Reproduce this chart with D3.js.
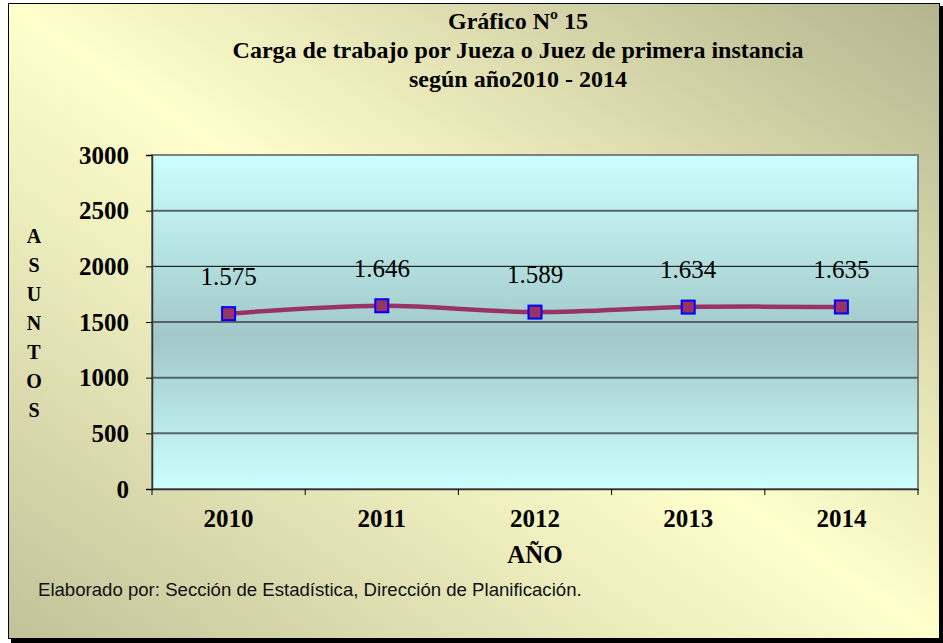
<!DOCTYPE html>
<html>
<head>
<meta charset="utf-8">
<script src="https://cdn.jsdelivr.net/npm/d3@7"></script>
<style>
body { margin: 0; background: #fff; }
svg { display: block; }
</style>
</head>
<body>
<svg id="chart" width="943" height="643"></svg>
<script>
// data
const years = ["2010", "2011", "2012", "2013", "2014"];
const asuntos = [1575, 1646, 1589, 1634, 1635];
const yTicks = [0, 500, 1000, 1500, 2000, 2500, 3000];
const titleLines = ["Gráfico Nº 15", "Carga de trabajo por Jueza o Juez de primera instancia", "según año2010 - 2014"];
const yLabel = "ASUNTOS";
const xLabel = "AÑO";
const footer = "Elaborado por: Sección de Estadística, Dirección de Planificación.";

const svg = d3.select("#chart");
const plot = {left: 152, right: 918, top: 155, bottom: 489};
const serif = "Liberation Serif, Times New Roman, serif";

const locale = d3.formatLocale({decimal: ",", thousands: ".", grouping: [3], currency: ["", ""]});
const fmt = locale.format(",d");

let defs = svg.append("defs");

let bg = defs.append("linearGradient")
.attr("id", "bgGrad")
.attr("x1", 0).attr("y1", 1)
.attr("x2", 1).attr("y2", 0);
bg.append("stop").attr("offset", 0).attr("stop-color", "#c2c29a");
bg.append("stop").attr("offset", 0.5).attr("stop-color", "#ffffcc");
bg.append("stop").attr("offset", 1).attr("stop-color", "#b4b48e");

let pg = defs.append("linearGradient")
.attr("id", "plotGrad")
.attr("x1", 0).attr("y1", 0)
.attr("x2", 0).attr("y2", 1);
pg.append("stop").attr("offset", 0).attr("stop-color", "#ccffff");
pg.append("stop").attr("offset", 0.55).attr("stop-color", "#a2c8c8");
pg.append("stop").attr("offset", 1).attr("stop-color", "#ccffff");

// shadow + frame
svg.append("rect")
.attr("x", 11).attr("y", 6)
.attr("width", 932).attr("height", 637)
.attr("fill", "#000");

svg.append("rect")
.attr("x", 8.5).attr("y", 3.5)
.attr("width", 931).attr("height", 635)
.attr("fill", "url(#bgGrad)")
.attr("stroke", "#000")
.attr("stroke-width", 1);

// scales
let x = d3.scaleBand()
.domain(years)
.range([plot.left, plot.right]);

let y = d3.scaleLinear()
.domain([0, 3000])
.range([plot.bottom, plot.top]);

// plot area
svg.append("rect")
.attr("x", plot.left).attr("y", plot.top)
.attr("width", plot.right - plot.left)
.attr("height", plot.bottom - plot.top)
.attr("fill", "url(#plotGrad)")
.attr("stroke", "#808080")
.attr("stroke-width", 2);

svg.append("g")
.selectAll("line")
.data(yTicks.filter(d => d > 0 && d < 3000))
.join("line")
.attr("x1", plot.left).attr("x2", plot.right)
.attr("y1", d => y(d)).attr("y2", d => y(d))
.attr("stroke", d => d == 2000 ? "#000" : "#5a6464")
.attr("stroke-width", d => d == 2000 ? 1 : 2);

// axes
let yAxis = svg.append("g")
.attr("transform", `translate(${plot.left},0)`)
.call(d3.axisLeft(y).tickValues(yTicks).tickSize(6).tickPadding(17).tickFormat(d3.format("d")));

let xAxis = svg.append("g")
.attr("transform", `translate(0,${plot.bottom})`)
.call(d3.axisBottom(x).tickSize(0).tickPadding(20));

xAxis.selectAll(".tick")
.append("line")
.attr("class", "edge")
.attr("x1", -x.bandwidth() / 2).attr("x2", -x.bandwidth() / 2)
.attr("y1", 0).attr("y2", 6)
.attr("stroke", "#000");

xAxis.append("line")
.attr("x1", plot.right).attr("x2", plot.right)
.attr("y1", 0).attr("y2", 6)
.attr("stroke", "#000");

[yAxis, xAxis].forEach(g => {
	g.select(".domain").attr("stroke", "#333").attr("stroke-width", 1.5);
	g.selectAll(".tick line").attr("stroke", "#000");
	g.selectAll("text")
	.attr("font-family", serif)
	.attr("font-weight", "bold")
	.attr("font-size", 25)
	.attr("fill", "#000");
});

// line
let line = d3.line()
.x((d, i) => x(years[i]) + x.bandwidth() / 2)
.y(d => y(d))
.curve(d3.curveCatmullRom.alpha(0.5));

svg.append("path")
.datum(asuntos)
.attr("d", line)
.attr("fill", "none")
.attr("stroke", "#993366")
.attr("stroke-width", 4.5);

svg.append("g")
.selectAll("rect")
.data(asuntos)
.join("rect")
.attr("x", (d, i) => x(years[i]) + x.bandwidth() / 2 - 6.5)
.attr("y", d => y(d) - 6.5)
.attr("width", 13).attr("height", 13)
.attr("fill", "#993366")
.attr("stroke", "#0000ff")
.attr("stroke-width", 2);

svg.append("g")
.selectAll("text")
.data(asuntos)
.join("text")
.attr("x", (d, i) => x(years[i]) + x.bandwidth() / 2)
.attr("y", d => y(d) - 29)
.attr("text-anchor", "middle")
.attr("font-family", serif)
.attr("font-size", 25)
.attr("fill", "#000")
.text(d => fmt(d));

// titles
svg.append("g")
.selectAll("text")
.data(titleLines)
.join("text")
.attr("x", 518)
.attr("y", (d, i) => 29 + i * 29)
.attr("text-anchor", "middle")
.attr("font-family", serif)
.attr("font-weight", "bold")
.attr("font-size", 24)
.text(d => d);

svg.append("g")
.selectAll("text")
.data(yLabel.split(""))
.join("text")
.attr("x", 34)
.attr("y", (d, i) => 243 + i * 29)
.attr("text-anchor", "middle")
.attr("font-family", serif)
.attr("font-weight", "bold")
.attr("font-size", 20)
.text(d => d);

svg.append("text")
.attr("x", (plot.left + plot.right) / 2)
.attr("y", 563)
.attr("text-anchor", "middle")
.attr("font-family", serif)
.attr("font-weight", "bold")
.attr("font-size", 25)
.text(xLabel);

svg.append("text")
.attr("x", 38)
.attr("y", 596)
.attr("font-family", "Liberation Sans, Arial, sans-serif")
.attr("font-size", 18.6)
.attr("fill", "#111")
.text(footer);
</script>
</body>
</html>
